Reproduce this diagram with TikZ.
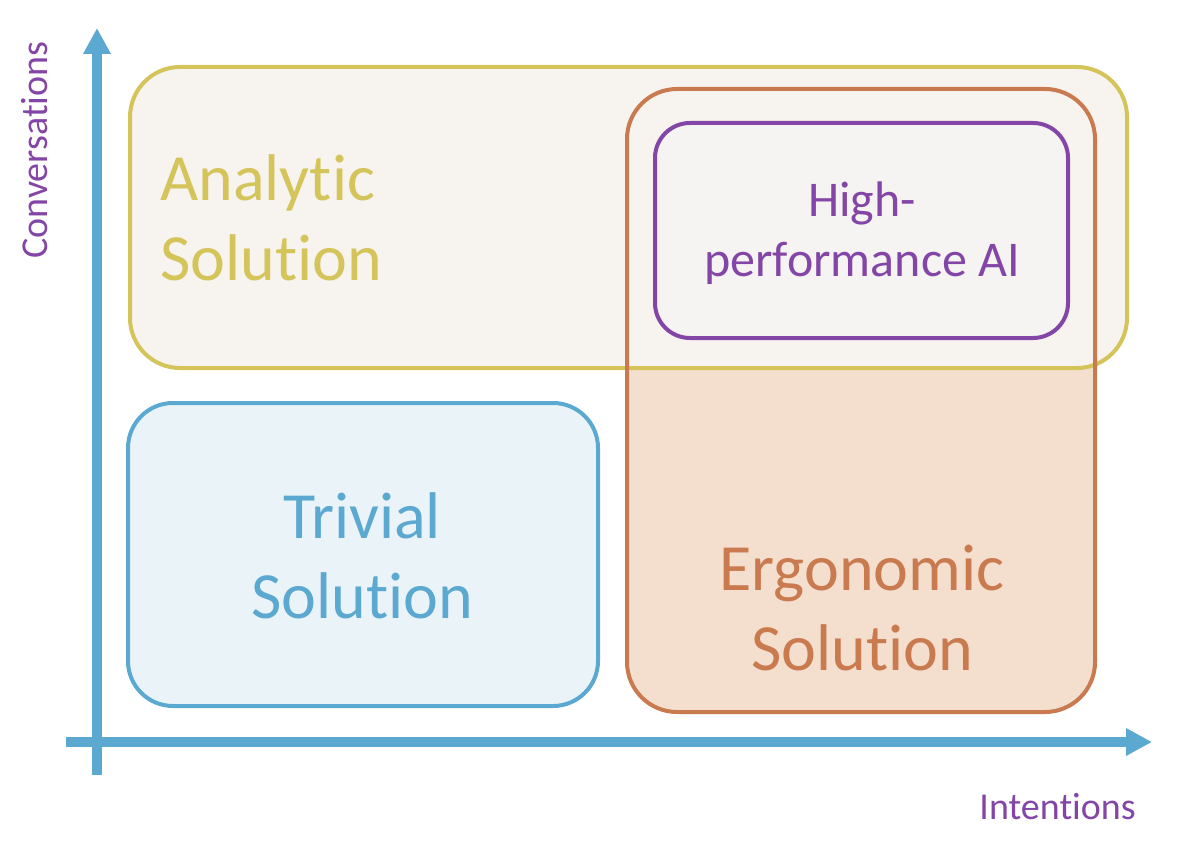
\documentclass[tikz,border=0pt]{standalone}
\usepackage{fontspec}
\setmainfont{Carlito}[Ligatures=NoCommon]
\usetikzlibrary{arrows.meta}
\definecolor{axisblue}{RGB}{91,168,208}
\definecolor{yel}{RGB}{212,196,90}
\definecolor{yelfill}{RGB}{247,243,239}
\definecolor{ora}{RGB}{201,122,78}
\definecolor{orafill}{RGB}{244,223,207}
\definecolor{pur}{RGB}{132,70,166}
\definecolor{purfill}{RGB}{245,244,242}
\definecolor{blufill}{RGB}{234,244,248}
\tikzset{
  box/.style={rectangle, line width=4pt, outer sep=0pt, inner sep=0pt},
  axisline/.style={line width=10pt, draw=axisblue, -{Triangle[width=26pt,length=26pt]}},
  bigtext/.style={font=\fontsize{66}{80}\selectfont, align=center, inner sep=0pt},
  midtext/.style={font=\fontsize{50}{60}\selectfont, align=center, inner sep=0pt},
  axtext/.style={font=\fontsize{38}{44}\selectfont, text=pur, inner sep=0pt},
}
\begin{document}
\begin{tikzpicture}[x=1pt,y=-1pt]
\useasboundingbox (0,0) rectangle (1180,853);
% ergonomic fill
\node[box, fill=orafill, rounded corners=50pt, minimum width=468pt, minimum height=623pt] (ergo) at (861,400.5) {};
% analytic box
\node[box, draw=yel, fill=yelfill, rounded corners=50pt, minimum width=997pt, minimum height=301pt] (analytic) at (628.5,217.5) {};
% ergonomic border
\draw[line width=4pt, draw=ora, rounded corners=50pt] (ergo.north west) rectangle (ergo.south east);
% high-performance AI
\node[box, draw=pur, fill=purfill, rounded corners=35pt, minimum width=413pt, minimum height=215pt] (hp) at (861.5,230.5) {};
% trivial
\node[box, draw=axisblue, fill=blufill, rounded corners=45pt, minimum width=470pt, minimum height=303pt] (trivial) at (363,554.5) {};
% labels
\node[bigtext, text=yel, align=left, anchor=west] (analytictext) at (160,218) {Analytic\\Solution};
\node[midtext, text=pur] (hptext) at (862,233) {High-\\performance AI};
\node[bigtext, text=axisblue] (trivialtext) at (362,556) {Trivial\\Solution};
\node[bigtext, text=ora] (ergotext) at (862,608) {Ergonomic\\Solution};
% axes
\coordinate (ybot) at (97,775);
\coordinate (ytop) at (97,28);
\coordinate (xleft) at (66,742);
\coordinate (xright) at (1152,742);
\draw[axisline] (ybot) -- (ytop);
\draw[axisline] (xleft) -- (xright);
\node[axtext, rotate=90] (conv) at (35,150) {Conversations};
\node[axtext, anchor=east] (intent) at (1136,807) {Intentions};
\end{tikzpicture}
\end{document}
